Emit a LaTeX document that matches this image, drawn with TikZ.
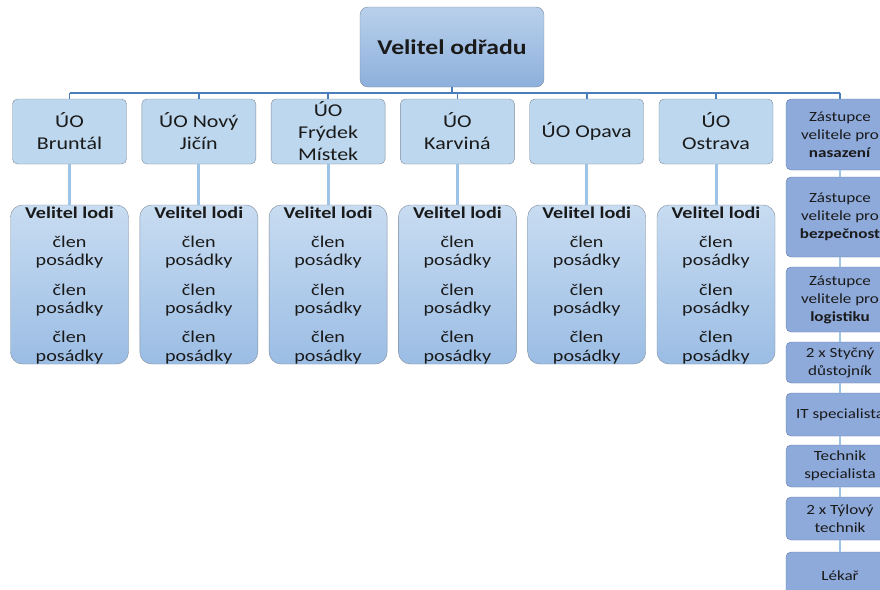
\documentclass[tikz,border=0pt]{standalone}
\usepackage{fontspec}
\setmainfont{Carlito}[FakeStretch=1.22]
\definecolor{uofill}{HTML}{BDD7EE}
\definecolor{boxgray}{HTML}{7F8C9D}
\definecolor{crewtop}{HTML}{C8DCF1}
\definecolor{crewbot}{HTML}{9BBDE4}
\definecolor{toptop}{HTML}{B9D0EB}
\definecolor{topbot}{HTML}{8DB0DC}
\definecolor{rfill}{HTML}{8EAADB}
\definecolor{rdraw}{HTML}{5F7BAA}
\definecolor{busc}{HTML}{4A7EBB}
\definecolor{lightc}{HTML}{9DC3E6}
\definecolor{txt}{HTML}{1A1A1A}
\begin{document}
\begin{tikzpicture}[x=1pt,y=-1pt,
  topbox/.style={draw=boxgray, top color=toptop, bottom color=topbot, rounded corners=8pt, minimum width=184pt, minimum height=80pt, inner sep=0pt, font=\fontsize{21}{25}\selectfont\bfseries, text=txt},
  uobox/.style={draw=boxgray, fill=uofill, rounded corners=5pt, minimum width=114pt, minimum height=65pt, inner sep=0pt, align=center, font=\fontsize{18}{22}\selectfont, text=txt},
  crewbox/.style={draw=boxgray, top color=crewtop, bottom color=crewbot, rounded corners=12pt, minimum width=118pt, minimum height=159pt, inner sep=0pt},
  crewtxt/.style={anchor=base, inner sep=0pt, font=\fontsize{16.5}{19}\selectfont, text=txt},
  rbox/.style={draw=rdraw, fill=rfill, rounded corners=5pt, minimum width=108pt, inner sep=0pt, align=center, font=\fontsize{14}{18}\selectfont, text=txt},
  bus/.style={draw=busc, line width=1.6pt},
  lightline/.style={draw=lightc, line width=3pt}]
\path[use as bounding box, clip] (0,0) rectangle (880,589);
\fill[white] (0,0) rectangle (880,589);

\node[topbox] (top) at (452,47) {Velitel odřadu};

\foreach \i/\t in {1/{ÚO\\Bruntál},2/{ÚO Nový\\Jičín},3/{ÚO\\Frýdek\\Místek},4/{ÚO\\Karviná},5/{ÚO Opava},6/{ÚO\\Ostrava}}{
  \pgfmathsetmacro\cx{69.5+129.3*(\i-1)}
  \node[uobox] (uo\i) at (\cx,131.5) {\t};
  \node[crewbox] (crew\i) at (\cx,284.5) {};
  \draw[lightline] (uo\i.south) -- (crew\i.north);
  \node[crewtxt, font=\fontsize{16.5}{19}\selectfont\bfseries] (v\i) at (\cx,218) {Velitel lodi};
  \node[crewtxt] (c\i a) at (\cx,247) {člen};
  \node[crewtxt] (c\i b) at (\cx,265) {posádky};
  \node[crewtxt] (c\i c) at (\cx,295) {člen};
  \node[crewtxt] (c\i d) at (\cx,313) {posádky};
  \node[crewtxt] (c\i e) at (\cx,342) {člen};
  \node[crewtxt] (c\i f) at (\cx,361) {posádky};
}

\node[rbox, minimum height=71pt] (r1) at (840,134.5) {Zástupce\\velitele pro\\\textbf{nasazení}};
\node[rbox, minimum height=80pt] (r2) at (840,217) {Zástupce\\velitele pro\\\textbf{bezpečnost}};
\node[rbox, minimum height=65pt] (r3) at (840,299.5) {Zástupce\\velitele pro\\\textbf{logistiku}};
\node[rbox, minimum height=41pt] (r4) at (840,362.5) {2 x Styčný\\důstojník};
\node[rbox, minimum height=43pt] (r5) at (840,414.5) {IT specialista};
\node[rbox, minimum height=42pt] (r6) at (840,466) {Technik\\specialista};
\node[rbox, minimum height=43pt] (r7) at (840,518.5) {2 x Týlový\\technik};
\node[rbox, minimum height=48pt] (r8) at (840,576) {Lékař};

\foreach \a/\b in {r1/r2,r2/r3,r3/r4,r4/r5,r5/r6,r6/r7,r7/r8}{
  \draw[lightline, line width=2.5pt] (\a.south) -- (\b.north);
}

\coordinate (busy) at (0,93);
\draw[bus] (top.south) -- (top.south |- busy);
\draw[bus] (uo1.north |- busy) -- (r1.north |- busy);
\foreach \n in {uo1,uo2,uo3,uo4,uo5,uo6,r1}{
  \draw[bus] (\n.north |- busy) -- (\n.north);
}
\end{tikzpicture}
\end{document}
